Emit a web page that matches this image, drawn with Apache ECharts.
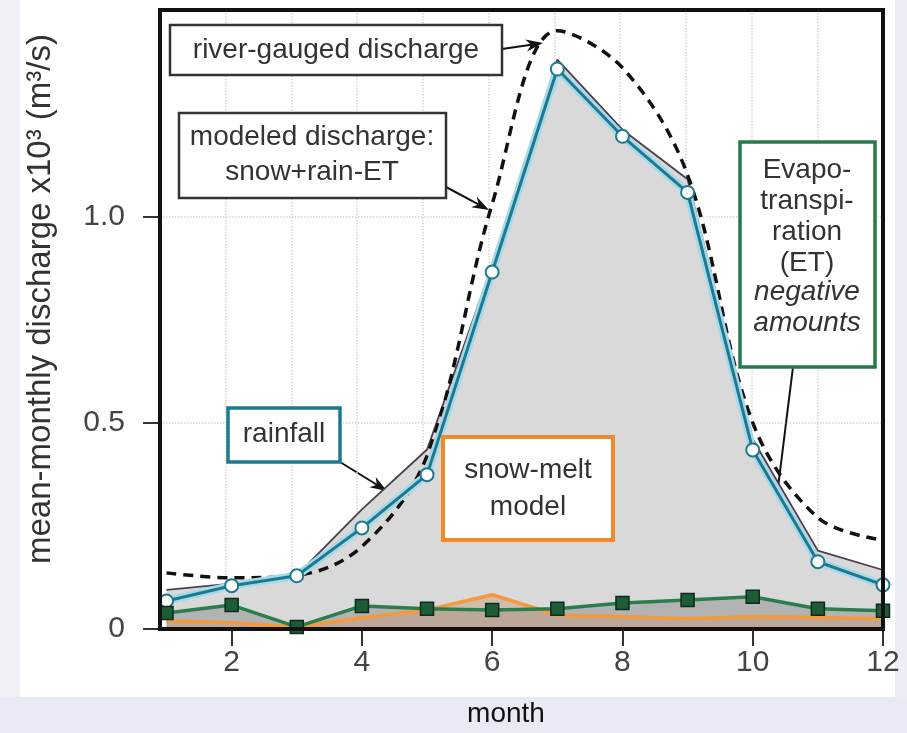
<!DOCTYPE html>
<html>
  <head>
    <meta charset="utf-8" />
    <script src="https://cdn.jsdelivr.net/npm/echarts@6.0.0/dist/echarts.min.js"></script>
  </head>
  <body style="margin: 0; background: #fff">
    <div id="main" style="width: 907px; height: 733px"></div>

    <script type="text/javascript">
      // monthly values, x10^3 m3/s
      var months = [1, 2, 3, 4, 5, 6, 7, 8, 9, 10, 11, 12];
      var gauged = [0.136, 0.124, 0.13, 0.2, 0.42, 1.03, 1.45, 1.36, 1.1, 0.5, 0.27, 0.215];
      var modeled = [0.095, 0.11, 0.13, 0.29, 0.435, 0.88, 1.38, 1.21, 1.09, 0.46, 0.19, 0.143];
      var rainfall = [0.068, 0.105, 0.129, 0.245, 0.374, 0.865, 1.357, 1.194, 1.058, 0.434, 0.163, 0.107];
      var evapo = [0.039, 0.058, 0.005, 0.056, 0.049, 0.046, 0.049, 0.063, 0.07, 0.078, 0.049, 0.044];
      var snowmelt = [0.02, 0.015, 0.005, 0.027, 0.046, 0.083, 0.034, 0.03, 0.025, 0.03, 0.028, 0.025];
      var xTicks = [2, 4, 6, 8, 10, 12];
      var yTicks = [0, 0.5, 1.0];

      function pairs(vals) {
        return months.map(function (m, i) { return [m, vals[i]]; });
      }

      var font = "Liberation Sans, Arial, sans-serif";

      // arrow from (x1,y1) to (x2,y2), head at the end
      function arrow(x1, y1, x2, y2) {
        var a = Math.atan2(y2 - y1, x2 - x1);
        var len = 17, w = 6;
        var bx = x2 - len * Math.cos(a), by = y2 - len * Math.sin(a);
        var mx = x2 - 0.7 * len * Math.cos(a), my = y2 - 0.7 * len * Math.sin(a);
        return {
          type: "group",
          z: 100,
          children: [
            { type: "line", shape: { x1: x1, y1: y1, x2: mx, y2: my }, style: { stroke: "#111", lineWidth: 2 } },
            {
              type: "polygon",
              shape: {
                points: [
                  [x2, y2],
                  [bx - w * Math.sin(a), by + w * Math.cos(a)],
                  [mx, my],
                  [bx + w * Math.sin(a), by - w * Math.cos(a)],
                ],
              },
              style: { fill: "#111" },
            },
          ],
        };
      }

      function box(x, y, w, h, stroke, lw) {
        return {
          type: "rect", z: 100,
          shape: { x: x, y: y, width: w, height: h },
          style: { fill: "#fff", stroke: stroke, lineWidth: lw },
        };
      }

      function label(txt, x, y, lh, italic) {
        return {
          type: "text", z: 101, x: x, y: y,
          style: {
            text: txt, fill: "#333", align: "center", verticalAlign: "middle",
            font: (italic ? "italic " : "") + "28px " + font, lineHeight: lh,
          },
        };
      }

      var myChart = echarts.init(document.getElementById("main"));

      var option = {
        animation: false,
        backgroundColor: "#fff",
        textStyle: { fontFamily: font },
        grid: { left: 160, right: 24, top: 10, bottom: 104, show: true, borderColor: "#111", borderWidth: 4, z: 10 },
        xAxis: [
          {
            type: "value", min: 0.9, max: 12,
            axisLine: { show: false },
            axisTick: { show: true, customValues: xTicks, length: 17, lineStyle: { color: "#333", width: 2 } },
            axisLabel: { customValues: xTicks, fontSize: 30, color: "#444", margin: 19 },
            splitLine: { show: false },
          },
          {
            // only for the dotted month grid
            type: "value", min: 1, max: 12, interval: 1, position: "bottom",
            axisLine: { show: false }, axisTick: { show: false }, axisLabel: { show: false },
            splitLine: { show: true, lineStyle: { color: "#d4d4d4", type: "dotted", width: 1.5 } },
          },
        ],
        yAxis: {
          type: "value", min: 0, max: 1.5, interval: 0.5,
          axisLine: { show: false },
          axisTick: { show: true, customValues: yTicks, length: 17, lineStyle: { color: "#333", width: 2 } },
          axisLabel: {
            customValues: yTicks, fontSize: 30, color: "#444", margin: 35,
            formatter: function (v) { return v === 0 ? "0" : v.toFixed(1); },
          },
          splitLine: { show: true, lineStyle: { color: "#d4d4d4", type: "dotted", width: 1.5 } },
        },
        series: [
          {
            name: "modeled discharge", type: "line", data: pairs(modeled), z: 1,
            symbol: "none", lineStyle: { color: "#4b3e50", width: 1.8 },
            areaStyle: { color: "#d9d9d9", opacity: 1 },
          },
          {
            name: "ET area", type: "line", data: pairs(evapo), z: 2, silent: true,
            symbol: "none", lineStyle: { width: 0 },
            areaStyle: { color: "#b3b3b3", opacity: 1 },
          },
          {
            name: "snow-melt model", type: "line", data: pairs(snowmelt), z: 3,
            symbol: "none", lineStyle: { color: "#f39a3c", width: 3.5 },
            areaStyle: { color: "#c99a78", opacity: 0.45 },
          },
          {
            name: "river-gauged discharge", type: "line", data: pairs(gauged), z: 4,
            symbol: "none", smooth: 0.35,
            lineStyle: { color: "#111", width: 3.5, type: [10, 7] },
          },
          {
            name: "rainfall halo", type: "line", data: pairs(rainfall), z: 5, silent: true,
            symbol: "none", lineStyle: { color: "#a6d8e8", width: 8 },
          },
          {
            name: "rainfall", type: "line", data: pairs(rainfall), z: 6,
            symbol: "circle", symbolSize: 13,
            lineStyle: { color: "#1c7a90", width: 3 },
            itemStyle: { color: "#fff", borderColor: "#1c7a90", borderWidth: 2 },
          },
          {
            name: "evapotranspiration", type: "line", data: pairs(evapo), z: 7,
            symbol: "rect", symbolSize: 13,
            lineStyle: { color: "#2b7d4d", width: 3.5 },
            itemStyle: { color: "#1d5c37", borderColor: "#0e2a19", borderWidth: 1.5 },
          },
        ],
        graphic: [
          // faint page background around the figure
          { type: "rect", z: -10, shape: { x: 0, y: 697, width: 907, height: 36 }, style: { fill: "#e8ebf3" } },
          { type: "rect", z: -10, shape: { x: 0, y: 0, width: 20, height: 697 }, style: { fill: "#eef0f6" } },
          { type: "rect", z: -10, shape: { x: 895, y: 0, width: 12, height: 697 }, style: { fill: "#eceef5" } },
          {
            type: "text", x: 41, y: 299, rotation: Math.PI / 2, z: 50,
            style: { text: "mean-monthly discharge x10\u00b3 (m\u00b3/s)", fill: "#333", font: "33px " + font, align: "center", verticalAlign: "middle" },
          },
          {
            type: "text", x: 506, y: 714, z: 50,
            style: { text: "month", fill: "#111", font: "28px " + font, align: "center", verticalAlign: "middle" },
          },
          box(170, 25, 332, 50, "#333", 2.5),
          label("river-gauged discharge", 336, 50, 34),
          arrow(502, 49, 543, 43),
          box(179, 113, 267, 85, "#333", 2.5),
          label("modeled discharge:\nsnow+rain-ET", 312, 155, 35),
          arrow(446, 187, 489, 210),
          box(228, 408, 112, 54, "#1b7a8f", 3.5),
          label("rainfall", 284, 434, 34),
          arrow(340, 462, 387, 491),
          box(443, 437, 170, 103, "#f0892a", 4),
          label("snow-melt\nmodel", 528, 489, 37),
          arrow(547, 541, 507, 596),
          box(740, 142, 135, 225, "#237a4b", 3.5),
          label("Evapo-\ntranspi-\nration\n(ET)", 807, 217, 31),
          label("negative\namounts", 807, 308, 31, true),
          arrow(793, 367, 765, 592),
        ],
      };

      myChart.setOption(option);
    </script>
  </body>
</html>
